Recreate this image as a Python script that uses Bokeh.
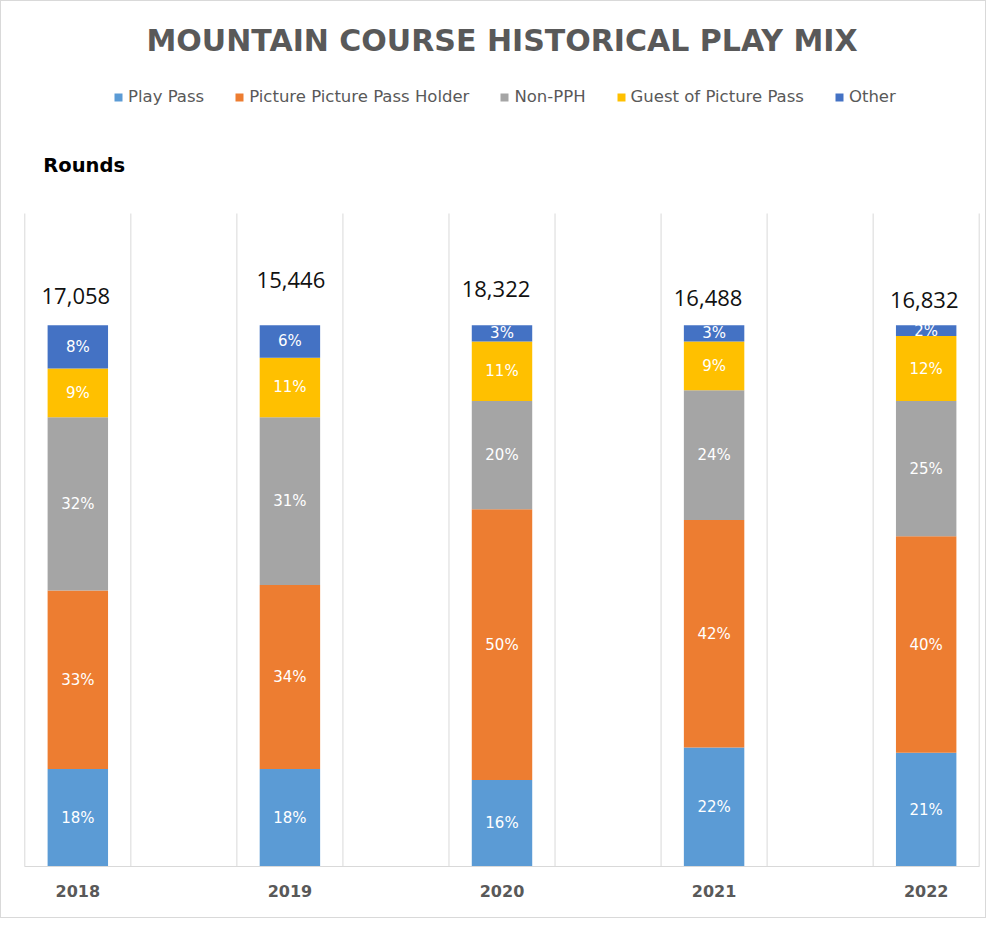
from bokeh.plotting import figure
from bokeh.models import ColumnDataSource, Range1d, FixedTicker, Label
from bokeh.embed import file_html
from bokeh.resources import INLINE
from bokeh.core.properties import value

# ---- data ----
years = ["2018", "2019", "2020", "2021", "2022"]
totals = [17058, 15446, 18322, 16488, 16832]
series = ["Play Pass", "Picture Picture Pass Holder", "Non-PPH",
          "Guest of Picture Pass", "Other"]
play_pass = [18, 18, 16, 22, 21]
pph = [33, 34, 50, 42, 40]
non_pph = [32, 31, 20, 24, 25]
guest = [9, 11, 11, 9, 12]
other = [8, 6, 3, 3, 2]

# ---- styling ----
colors = ["#5B9BD5", "#ED7D31", "#A5A5A5", "#FFC000", "#4472C4"]
keys = ["play_pass", "pph", "non_pph", "guest", "other"]
# pixel nudges of the total-round labels (as placed in the original)
total_dx = [-2, 1, -6, -6, -2]
total_dy = [-29, -45, -36, -27, -25]

x_pos = [2 * i + 0.5 for i in range(len(years))]
src = ColumnDataSource(dict(x=x_pos, play_pass=play_pass, pph=pph,
                            non_pph=non_pph, guest=guest, other=other))

PX_PER_PCT = 5.413
FRAME_H = 865
y_top = FRAME_H / PX_PER_PCT

p = figure(width=986, height=918,
           x_range=Range1d(-0.05, 9.05), y_range=Range1d(0, y_top),
           output_backend="svg", toolbar_location=None,
           y_axis_location=None,
           min_border_left=18, min_border_right=3,
           min_border_top=0, min_border_bottom=918 - FRAME_H)
p.outline_line_color = None
p.xgrid.visible = False
p.ygrid.visible = False
p.styles = {"border": "1px solid #d9d9d9"}

def ref_y(py):
    """pixel row of the original picture -> data y"""
    return (866 - py) / PX_PER_PCT

# vertical separator grid lines
n_lines = 2 * len(years)
grid_x = list(range(n_lines))
grid_top = ref_y(213)
p.segment(x0=grid_x, y0=[0] * n_lines, x1=grid_x, y1=[grid_top] * n_lines,
          line_color="#d9d9d9", line_width=1)

p.vbar_stack(keys, x="x", width=0.57, source=src,
             fill_color=colors, line_color=None, legend_label=series)

# percentage labels inside segments
stack = [play_pass, pph, non_pph, guest, other]
lx, ly, lt = [], [], []
for i in range(len(years)):
    base = 0
    for arr in stack:
        v = arr[i]
        lx.append(x_pos[i])
        ly.append(base + v / 2)
        lt.append(f"{v}%")
        base += v
p.text(x=lx, y=ly, text=lt, text_color="white",
       text_font=value("DejaVu Sans"), text_font_size="15px",
       text_align="center", text_baseline="middle")

# totals above bars
tops = [sum(arr[i] for arr in stack) for i in range(len(years))]
p.text(x=x_pos, y=tops, text=[f"{t:,}" for t in totals],
       x_offset=total_dx, y_offset=total_dy,
       text_color="#111111", text_font=value("Open Sans"),
       text_font_size="22px", text_align="center", text_baseline="middle")

# title and axis caption
p.add_layout(Label(x=4.5, y=ref_y(39.5),
                   text="MOUNTAIN COURSE HISTORICAL PLAY MIX",
                   text_align="center", text_baseline="middle",
                   text_font="DejaVu Sans", text_font_style="bold",
                   text_font_size="30px", text_color="#595959"))
p.add_layout(Label(x=(42.5 - 24) / 106, y=ref_y(165),
                   text="Rounds", text_align="left",
                   text_baseline="middle", text_font="DejaVu Sans",
                   text_font_style="bold", text_font_size="19.5px",
                   text_color="#000000"))

# legend
leg = p.legend[0]
leg.orientation = "horizontal"
leg.location = (94, 760)
leg.padding = 0
leg.margin = 0
leg.spacing = 30
leg.label_standoff = 5
leg.glyph_width = 10
leg.glyph_height = 10
leg.label_height = 18
leg.border_line_color = None
leg.background_fill_alpha = 0
leg.label_text_font = "DejaVu Sans"
leg.label_text_font_size = "16.5px"
leg.label_text_color = "#595959"

# x axis
p.xaxis.ticker = FixedTicker(ticks=x_pos)
p.xaxis.major_label_overrides = {x: y for x, y in zip(x_pos, years)}
p.xaxis.major_label_text_font = "DejaVu Sans"
p.xaxis.major_label_text_font_style = "bold"
p.xaxis.major_label_text_font_size = "16px"
p.xaxis.major_label_text_color = "#595959"
p.xaxis.major_tick_line_color = None
p.xaxis.minor_tick_line_color = None
p.xaxis.axis_line_color = "#d9d9d9"
p.xaxis.bounds = (0, 9)
p.xaxis.major_label_standoff = 12

open("out.html", "w").write(file_html(p, INLINE))
